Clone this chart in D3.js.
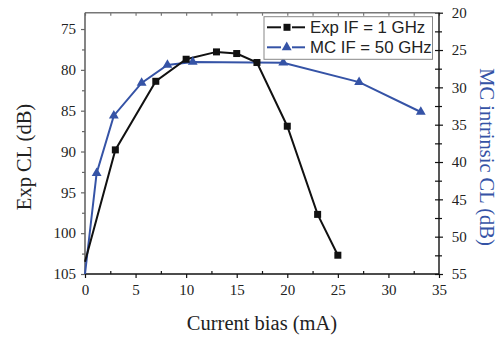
<!DOCTYPE html>
<html>
<head>
<meta charset="utf-8">
<script src="https://cdn.jsdelivr.net/npm/d3@7"></script>
<style>
  body { margin: 0; background: #fff; }
  svg { display: block; }
</style>
</head>
<body>
<div id="chart"></div>
<script>
// data
const expBias = [0, 3, 7, 10, 13, 15, 17, 20, 23, 25];
const expCL = [103.5, 89.8, 81.4, 78.7, 77.8, 78.0, 79.1, 86.9, 97.7, 102.7];
const mcBias = [0, 1.15, 2.85, 5.6, 8.15, 10.65, 19.6, 27.1, 33.2];
const mcCL = [55, 41.5, 33.8, 29.4, 27.0, 26.6, 26.7, 29.3, 33.3];
const xTicks = [0, 5, 10, 15, 20, 25, 30, 35];
const leftTicks = [75, 80, 85, 90, 95, 100, 105];
const rightTicks = [20, 25, 30, 35, 40, 45, 50, 55];
const legendLabels = ["Exp IF = 1 GHz", "MC IF = 50 GHz"];

const W = 503, H = 339;
const plot = { left: 85, right: 439, top: 12.7, bottom: 274 };
const blue = "#3553a6";
const serif = '"Liberation Serif", "Times New Roman", serif';
const sans = '"Liberation Sans", Arial, sans-serif';

const svg = d3.select('#chart')
  .append('svg')
  .attr('width', W)
  .attr('height', H);

// scales
const x = d3.scaleLinear().domain([0, 35]).range([plot.left, plot.right]);
const yL = d3.scaleLinear().domain([73, 105]).range([plot.top, plot.bottom]);
const yR = d3.scaleLinear().domain([20, 55]).range([plot.top, plot.bottom]);

const minorX = d3.range(2.5, 35, 5);
const minorL = d3.range(77.5, 105, 5);
const minorR = d3.range(22.5, 55, 5);

function styleAxis(g, col) {
  g.select('.domain').remove();
  g.selectAll('line').attr('stroke', col).attr('stroke-width', 1.2);
  g.selectAll('text')
    .style('font-family', serif)
    .style('font-size', '15px')
    .attr('fill', '#222');
}

// top ticks (inward)
svg.append('g')
  .attr('transform', `translate(0, ${plot.top})`)
  .call(d3.axisTop(x).tickValues(d3.range(0, 35.1, 2.5)).tickSize(-3).tickFormat(''))
  .call(g => styleAxis(g, '#777'));

// bottom axis
svg.append('g')
  .attr('transform', `translate(0, ${plot.bottom})`)
  .call(d3.axisBottom(x).tickValues(xTicks).tickSize(4).tickPadding(6.4))
  .call(g => styleAxis(g, '#111'));
svg.append('g')
  .attr('transform', `translate(0, ${plot.bottom})`)
  .call(d3.axisBottom(x).tickValues(minorX).tickSize(-3).tickFormat(''))
  .call(g => styleAxis(g, '#111'));

// left axis
svg.append('g')
  .attr('transform', `translate(${plot.left}, 0)`)
  .call(d3.axisLeft(yL).tickValues(leftTicks).tickSize(4).tickPadding(5))
  .call(g => styleAxis(g, '#666'));
svg.append('g')
  .attr('transform', `translate(${plot.left}, 0)`)
  .call(d3.axisLeft(yL).tickValues(minorL).tickSize(3).tickFormat(''))
  .call(g => styleAxis(g, '#666'));

// right axis, ticks on both sides
svg.append('g')
  .attr('transform', `translate(${plot.right}, 0)`)
  .call(d3.axisRight(yR).tickValues(rightTicks).tickSize(4).tickPadding(8.7))
  .call(g => styleAxis(g, '#111'));
svg.append('g')
  .attr('transform', `translate(${plot.right}, 0)`)
  .call(d3.axisRight(yR).tickValues(rightTicks.concat(minorR)).tickSize(-4).tickFormat(''))
  .call(g => styleAxis(g, '#111'));
svg.append('g')
  .attr('transform', `translate(${plot.right}, 0)`)
  .call(d3.axisRight(yR).tickValues(minorR).tickSize(3).tickFormat(''))
  .call(g => styleAxis(g, '#111'));

// frame
svg.append('line').attr('x1', plot.left).attr('x2', plot.right).attr('y1', plot.top).attr('y2', plot.top)
  .attr('stroke', '#777').attr('stroke-width', 1.4);
svg.append('line').attr('x1', plot.left).attr('x2', plot.left).attr('y1', plot.top).attr('y2', plot.bottom)
  .attr('stroke', '#666').attr('stroke-width', 1.6);
svg.append('line').attr('x1', plot.left).attr('x2', plot.right).attr('y1', plot.bottom).attr('y2', plot.bottom)
  .attr('stroke', '#111').attr('stroke-width', 1.4);
svg.append('line').attr('x1', plot.right).attr('x2', plot.right).attr('y1', plot.top).attr('y2', plot.bottom)
  .attr('stroke', '#111').attr('stroke-width', 1.4);

// series
const expData = expBias.map((b, i) => ({ b: b, v: expCL[i] }));
const mcData = mcBias.map((b, i) => ({ b: b, v: mcCL[i] }));

const tri = d3.symbol().type(d3.symbolTriangle).size(42);

svg.append('path')
  .datum(mcData)
  .attr('fill', 'none')
  .attr('stroke', blue)
  .attr('stroke-width', 2)
  .attr('d', d3.line().x(d => x(d.b)).y(d => yR(d.v)));

svg.append('path')
  .datum(expData)
  .attr('fill', 'none')
  .attr('stroke', '#111')
  .attr('stroke-width', 2)
  .attr('d', d3.line().x(d => x(d.b)).y(d => yL(d.v)));

svg.selectAll('.mc')
  .data(mcData.slice(1))
  .enter()
  .append('path')
  .attr('class', 'mc')
  .attr('d', tri)
  .attr('transform', d => `translate(${x(d.b)}, ${yR(d.v)})`)
  .attr('fill', blue);

svg.selectAll('.exp')
  .data(expData.slice(1))
  .enter()
  .append('rect')
  .attr('class', 'exp')
  .attr('x', d => x(d.b) - 3.5)
  .attr('y', d => yL(d.v) - 3.5)
  .attr('width', 7)
  .attr('height', 7)
  .attr('fill', '#111');

// legend
const leg = svg.append('g');
leg.append('rect')
  .attr('x', 264).attr('y', 16.7)
  .attr('width', 168.5).attr('height', 42.6)
  .attr('fill', '#fff')
  .attr('stroke', '#888')
  .attr('stroke-width', 1);

[0, 1].forEach(i => {
  const ly = 27.3 + i * 20;
  const col = i === 0 ? '#111' : blue;
  leg.append('line').attr('x1', 267).attr('x2', 281).attr('y1', ly).attr('y2', ly)
    .attr('stroke', col).attr('stroke-width', 2);
  leg.append('line').attr('x1', 292).attr('x2', 305).attr('y1', ly).attr('y2', ly)
    .attr('stroke', col).attr('stroke-width', 2);
  if (i === 0) {
    leg.append('rect').attr('x', 283.5).attr('y', ly - 3.5).attr('width', 7).attr('height', 7).attr('fill', col);
  } else {
    leg.append('path').attr('d', tri).attr('transform', `translate(286.7, ${ly})`).attr('fill', col);
  }
  leg.append('text')
    .attr('x', 310)
    .attr('y', ly)
    .attr('dy', '0.36em')
    .text(legendLabels[i])
    .style('font-family', sans)
    .style('font-size', '16.8px')
    .attr('fill', '#222');
});

// axis titles
svg.append('text')
  .attr('transform', 'translate(31, 157) rotate(-90)')
  .attr('text-anchor', 'middle')
  .text('Exp CL (dB)')
  .style('font-family', serif)
  .style('font-size', '20.5px')
  .attr('fill', '#222');

svg.append('text')
  .attr('transform', 'translate(480, 157) rotate(90)')
  .attr('text-anchor', 'middle')
  .text('MC intrinsic CL (dB)')
  .style('font-family', serif)
  .style('font-size', '20.5px')
  .attr('fill', blue);

svg.append('text')
  .attr('x', 262)
  .attr('y', 330)
  .attr('text-anchor', 'middle')
  .text('Current bias (mA)')
  .style('font-family', serif)
  .style('font-size', '20.5px')
  .attr('fill', '#222');
</script>
</body>
</html>
